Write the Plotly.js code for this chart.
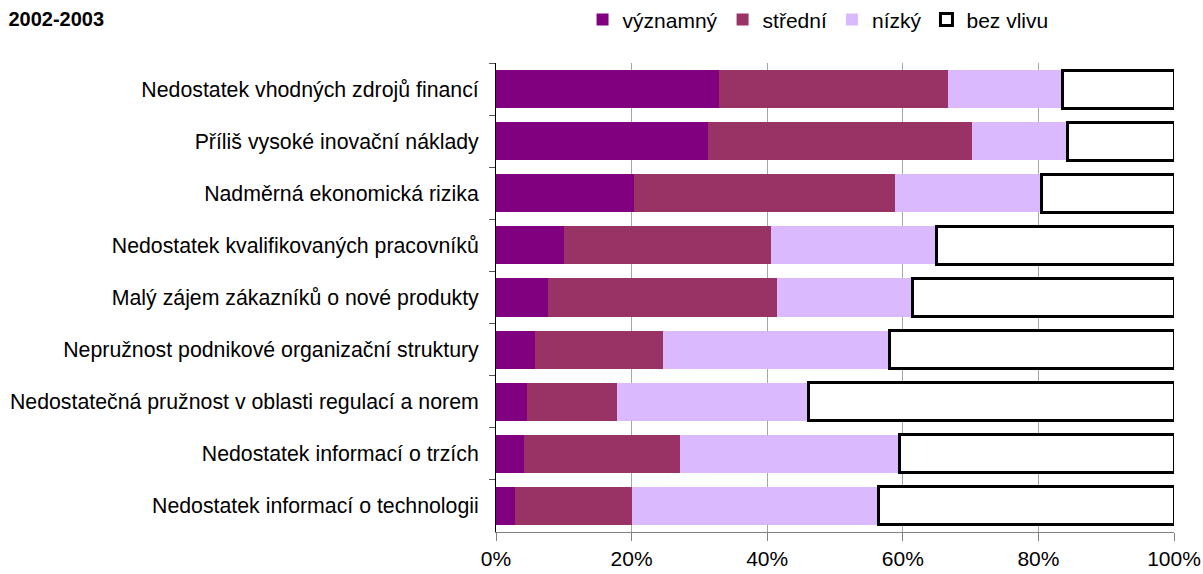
<!DOCTYPE html>
<html>
<head>
<meta charset="utf-8">
<script src="https://cdn.plot.ly/plotly-3.0.1.min.js"></script>
<style>html,body{margin:0;padding:0;background:#fff;}#chart{width:1203px;height:574px;}</style>
</head>
<body>
<div id="chart"></div>
<script>
const categories = [
  "Nedostatek vhodných zdrojů financí",
  "Příliš vysoké inovační náklady",
  "Nadměrná ekonomická rizika",
  "Nedostatek kvalifikovaných pracovníků",
  "Malý zájem zákazníků o nové produkty",
  "Nepružnost podnikové organizační struktury",
  "Nedostatečná pružnost v oblasti regulací a norem",
  "Nedostatek informací o trzích",
  "Nedostatek informací o technologii"
];
const vyznamny = [32.9, 31.3, 20.4, 10.1, 7.7, 5.8, 4.6, 4.2, 2.8];
const stredni  = [33.7, 38.9, 38.5, 30.5, 33.8, 18.9, 13.3, 23.0, 17.3];
const nizky    = [17.0, 14.1, 21.5, 24.4, 19.9, 33.4, 28.2, 32.3, 36.3];
const bezVlivu = [16.4, 15.7, 19.6, 35.0, 38.6, 41.9, 53.9, 40.5, 43.6];
const seriesNames = ["významný", "střední", "nízký", "bez vlivu"];
const xTicks = [0, 20, 40, 60, 80, 100];

const mk = (name, vals, color, lineW) => ({
  type: "bar", orientation: "h", name: name, x: vals, y: categories,
  marker: {color: color, line: {color: "#000", width: lineW}},
  hoverinfo: "skip"
});

const data = [
  mk(seriesNames[0], vyznamny, "#800080", 0),
  mk(seriesNames[1], stredni, "#993366", 0),
  mk(seriesNames[2], nizky, "#dab9ff", 0),
  mk(seriesNames[3], bezVlivu, "#ffffff", 3)
];

const font = "Liberation Sans, Arial, sans-serif";
const layout = {
  width: 1203, height: 574,
  margin: {l: 496, r: 29, t: 63, b: 42, pad: 0, autoexpand: false},
  paper_bgcolor: "#fff", plot_bgcolor: "#fff",
  barmode: "stack", bargap: 0.27,
  font: {family: font, size: 21, color: "#000"},
  title: {text: "<b>2002-2003</b>", x: 0.007, xanchor: "left", y: 0.967, yanchor: "middle",
          font: {family: font, size: 20, color: "#000"}},
  showlegend: true,
  legend: {orientation: "h", x: 0.475, xanchor: "center", y: 1.092, yanchor: "middle",
           font: {family: font, size: 21}, traceorder: "normal",
           itemwidth: 30, tracegroupgap: 0, bgcolor: "rgba(0,0,0,0)"},
  xaxis: {
    range: [0, 100], tickvals: xTicks, ticktext: xTicks.map(v => v + "%"),
    showgrid: true, gridcolor: "#a6a6a6", gridwidth: 1,
    showline: true, linecolor: "#808080", linewidth: 1,
    ticks: "outside", ticklen: 8, tickcolor: "#808080",
    tickfont: {family: font, size: 21}, zeroline: false, fixedrange: true
  },
  yaxis: {
    autorange: "reversed", type: "category",
    showline: true, linecolor: "#000", linewidth: 1,
    ticks: "outside", ticklen: 6, tickcolor: "#555", tickson: "boundaries",
    tickfont: {family: font, size: 21.3}, showgrid: false, fixedrange: true,
    ticklabelstandoff: 12
  }
};

Plotly.newPlot("chart", data, layout, {displayModeBar: false, staticPlot: true});
</script>
</body>
</html>
